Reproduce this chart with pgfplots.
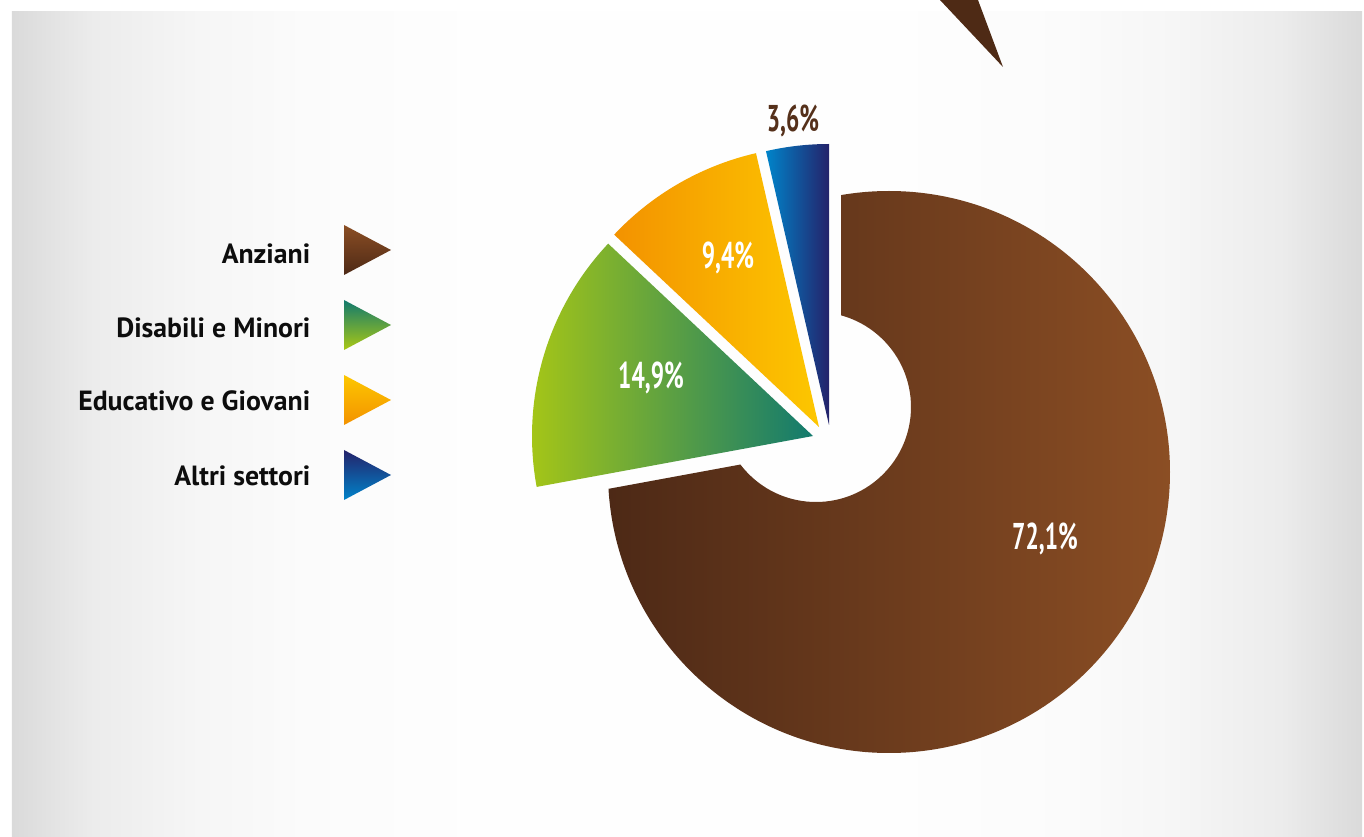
\documentclass[border=0pt]{standalone}
\usepackage{fontspec}
\setmainfont{PT Sans}
\usepackage{graphicx}
\usepackage{pgfplots}
\usepackage{pgfplotstable}
\pgfplotsset{compat=1.18}

\definecolor{brL}{HTML}{4D2916}
\definecolor{brR}{HTML}{8B4E24}
\definecolor{grL}{HTML}{AAC814}
\definecolor{grR}{HTML}{127A6E}
\definecolor{yeL}{HTML}{F39200}
\definecolor{yeR}{HTML}{FDC700}
\definecolor{blL}{HTML}{0084CA}
\definecolor{blR}{HTML}{24226A}
\definecolor{arrowbr}{HTML}{4E2A15}
\definecolor{lbl}{HTML}{55301A}
\definecolor{pg0}{gray}{0.855}
\definecolor{pg1}{gray}{0.925}
\definecolor{pg2}{gray}{0.965}
\definecolor{pg3}{gray}{0.985}
\definecolor{pg4}{gray}{0.995}

\pgfdeclarehorizontalshading{panel}{100bp}{color(0bp)=(pg0); color(25bp)=(pg0); color(28bp)=(pg1); color(32bp)=(pg2); color(36bp)=(pg3); color(42bp)=(pg4); color(58bp)=(pg4); color(64bp)=(pg3); color(68bp)=(pg2); color(72bp)=(pg1); color(75bp)=(pg0); color(100bp)=(pg0)}

\newcommand\pct[1]{\scalebox{0.63}[1]{\fontsize{10.6}{12}\selectfont\bfseries #1}}
\newcommand\leg[1]{{\fontsize{7.9}{9}\selectfont\bfseries #1}}

\pgfplotstableread{
sector value
Anziani 72.1
Disabili 14.9
Educativo 9.4
Altri 3.6
}\sectors

\begin{document}%
\pgfplotstablegetelem{0}{value}\of\sectors\pgfmathsetmacro\vAnz{\pgfplotsretval}%
\pgfplotstablegetelem{1}{value}\of\sectors\pgfmathsetmacro\vDis{\pgfplotsretval}%
\pgfplotstablegetelem{2}{value}\of\sectors\pgfmathsetmacro\vEdu{\pgfplotsretval}%
\pgfplotstablegetelem{3}{value}\of\sectors\pgfmathsetmacro\vAlt{\pgfplotsretval}%
\pgfmathsetmacro\aZero{90}%
\pgfmathsetmacro\aOne{\aZero+3.6*\vAlt}%
\pgfmathsetmacro\aTwo{\aOne+3.6*\vEdu}%
\pgfmathsetmacro\aThree{\aTwo+3.6*\vDis}%
\pgfmathsetmacro\aFour{\aThree+3.6*\vAnz}%
\begin{tikzpicture}
\begin{axis}[scale only axis, width=136.4mm, height=83.6mm,
  xmin=0, xmax=1364, ymin=0, ymax=836, hide axis]
% background
\fill[white] (axis cs:0,0) rectangle (axis cs:1364,836);
\shade[shading=panel] (axis cs:12,0) rectangle (axis cs:1362,824);
\fill[arrowbr] (axis cs:940,836) -- (axis cs:978,836) -- (axis cs:1003,769) -- cycle;
% Anziani (large slice with hole)
\begin{scope}
\clip (axis cs:841,390) -- ++(\aThree:60mm) arc[start angle=\aThree, end angle=\aFour, radius=60mm] -- cycle;
\shade[left color=brL, right color=brR, even odd rule] (axis cs:889,364) circle[radius=28.1mm] (axis cs:816,429) circle[radius=9.5mm];
\end{scope}
% Disabili e Minori
\shade[left color=grL, right color=grR] (axis cs:813,400) -- ++(\aTwo:28.1mm) arc[start angle=\aTwo, end angle=\aThree, radius=28.1mm] -- cycle;
% Educativo e Giovani
\shade[left color=yeL, right color=yeR] (axis cs:819,409) -- ++(\aOne:28.1mm) arc[start angle=\aOne, end angle=\aTwo, radius=28.1mm] -- cycle;
% Altri settori
\shade[left color=blL, right color=blR] (axis cs:829,411) -- ++(\aZero:28.1mm) arc[start angle=\aZero, end angle=\aOne, radius=28.1mm] -- cycle;
% percentage labels
\node[anchor=base, inner sep=0, text=white] at (axis cs:1045,287) {\pct{72,1\%}};
\node[anchor=base, inner sep=0, text=white] at (axis cs:651,447) {\pct{14,9\%}};
\node[anchor=base, inner sep=0, text=white] at (axis cs:728,567) {\pct{9,4\%}};
\node[anchor=base, inner sep=0, text=lbl] at (axis cs:793,704) {\pct{3,6\%}};
% legend
\shade[top color=brR, bottom color=brL] (axis cs:344,611) -- (axis cs:391,586) -- (axis cs:344,561) -- cycle;
\shade[top color=grR, bottom color=grL] (axis cs:344,536) -- (axis cs:391,511) -- (axis cs:344,486) -- cycle;
\shade[top color=yeR, bottom color=yeL] (axis cs:344,461) -- (axis cs:391,436) -- (axis cs:344,411) -- cycle;
\shade[top color=blR, bottom color=blL] (axis cs:344,386) -- (axis cs:391,361) -- (axis cs:344,336) -- cycle;
\node[anchor=base east, inner sep=0, text=black!95] at (axis cs:311,572) {\leg{Anziani}};
\node[anchor=base east, inner sep=0, text=black!95] at (axis cs:311,498) {\leg{Disabili e Minori}};
\node[anchor=base east, inner sep=0, text=black!95] at (axis cs:311,425) {\leg{Educativo e Giovani}};
\node[anchor=base east, inner sep=0, text=black!95] at (axis cs:311,351) {\leg{Altri settori}};
\end{axis}
\end{tikzpicture}%
\end{document}
